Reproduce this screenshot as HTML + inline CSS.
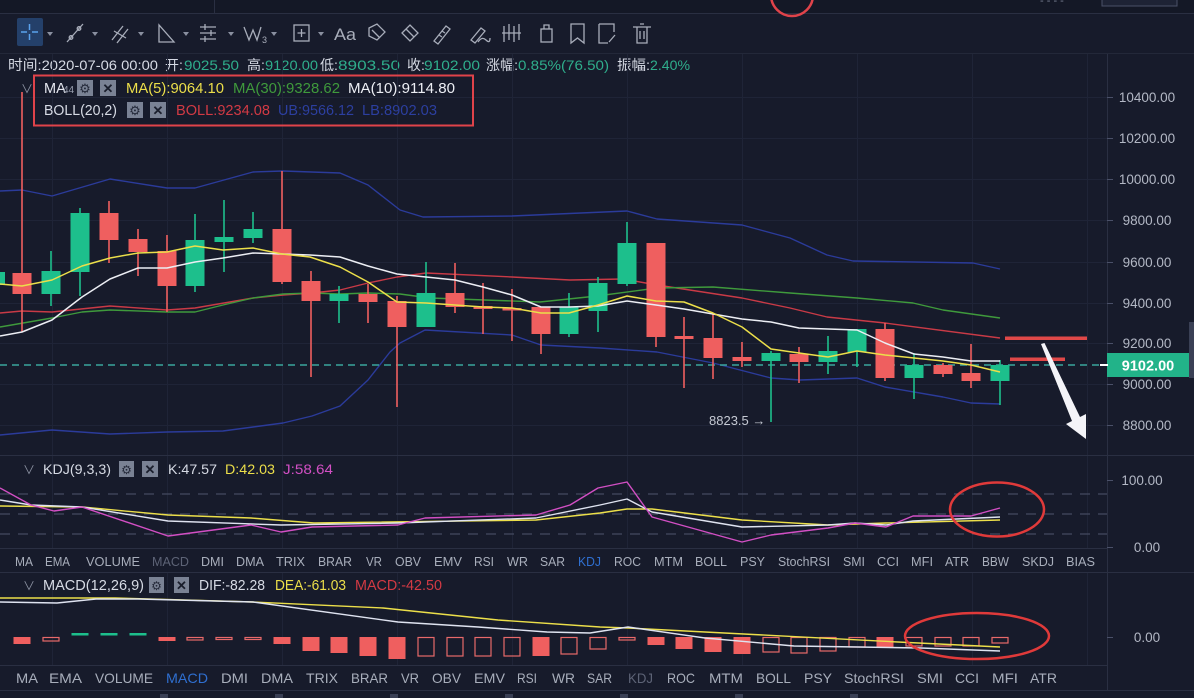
<!DOCTYPE html>
<html><head><meta charset="utf-8"><style>
html,body{margin:0;padding:0;background:#171b2b;overflow:hidden;}
svg{display:block;}
text{font-family:"Liberation Sans","Noto Sans CJK SC",sans-serif;}
</style></head><body>
<svg width="1194" height="698" viewBox="0 0 1194 698" xmlns="http://www.w3.org/2000/svg">
<rect width="1194" height="698" fill="#171b2b"/>
<!-- top strip -->
<rect x="0" y="0" width="1194" height="13" fill="#141826"/>
<line x1="0" y1="13.5" x2="1194" y2="13.5" stroke="#2a2f42"/>
<line x1="214.5" y1="0" x2="214.5" y2="13" stroke="#2a2f42"/>
<circle cx="792" cy="-5" r="21" fill="none" stroke="#e0434a" stroke-width="2.5"/>
<rect x="1102" y="-6" width="75" height="12" fill="#1e2335" stroke="#4a5068"/>
<text x="1040" y="4" font-size="11" fill="#7a8094">- -  - -</text>
<line x1="0" y1="53.5" x2="1194" y2="53.5" stroke="#232839"/>

<!-- toolbar -->
<rect x="17" y="18" width="26" height="28" rx="2" fill="#24406a"/>
<path d="M21 32H27M32 32H38M29.5 24V30M29.5 34V40" stroke="#5aa2ec" stroke-width="1.5"/>
<g fill="#8a90a0">
<polygon points="47,32 53,32 50,36"/><polygon points="92,32 98,32 95,36"/><polygon points="138,32 144,32 141,36"/>
<polygon points="183,32 189,32 186,36"/><polygon points="228,32 234,32 231,36"/><polygon points="271,32 277,32 274,36"/>
<polygon points="318,32 324,32 321,36"/>
</g>
<g stroke="#a8adba" stroke-width="1.3" fill="none">
<path d="M67 42L83 24"/><circle cx="71" cy="37.5" r="1.8"/><circle cx="79" cy="28.5" r="1.8"/>
<path d="M112 40L123 26M117 43L128 29M114 31L126 38"/>
<path d="M159 42V25L174 42Z"/>
<path d="M200 27H216M200 33H216M200 39H216M205 24V30M211 30V36M205 36V42"/>
<path d="M244 27L249 40L253 30L257 40L261 27"/>
<rect x="294" y="25" width="15" height="16"/><path d="M301.5 29V37M297.5 33H305.5"/>
<path d="M369 28L377 24L385 32L377 40L369 36Z M372 30L380 38"/>
<path d="M402 33L410 25L418 33L410 41Z M406 29L414 37"/>
<path d="M434 41L446 26L450 29L438 44Z M439 35L442 37M442 31L445 33"/>
<path d="M471 40L481 28L485 31L475 43Z M478 42Q482 36 486 40T490 38"/>
<path d="M504 26V42M509 24V40M514 26V42M519 24V40M502 33H521"/>
<rect x="541" y="29" width="11" height="13"/><path d="M544 29V25H549V29"/>
<path d="M571 24H584V43L577.5 38L571 43Z"/>
<path d="M599 24H614V32M599 24V43H608M609 42L615 35"/>
<path d="M633 27H651M637 27V43H647V27M640 24H644M640 31V39M644 31V39"/>
</g>
<text x="262" y="43" font-size="9" fill="#a8adba">3</text>
<text x="334" y="40" font-size="17" fill="#a8adba" textLength="22" lengthAdjust="spacingAndGlyphs">Aa</text>

<!-- header -->
<g font-size="14">
<text x="8" y="70" fill="#d6dae4" textLength="150" lengthAdjust="spacingAndGlyphs">时间:2020-07-06 00:00</text>
<text x="165" y="70" fill="#d6dae4">开:</text><text x="184" y="70" fill="#2fae8c" textLength="55" lengthAdjust="spacingAndGlyphs">9025.50</text>
<text x="247" y="70" fill="#d6dae4">高:</text><text x="265" y="70" fill="#2fae8c" textLength="53" lengthAdjust="spacingAndGlyphs">9120.00</text>
<text x="320" y="70" fill="#d6dae4">低:</text><text x="338" y="70" fill="#2fae8c" textLength="62" lengthAdjust="spacingAndGlyphs">8903.50</text>
<text x="407" y="70" fill="#d6dae4">收:</text><text x="424" y="70" fill="#2fae8c" textLength="56" lengthAdjust="spacingAndGlyphs">9102.00</text>
<text x="486" y="70" fill="#d6dae4" textLength="32" lengthAdjust="spacingAndGlyphs">涨幅:</text><text x="518" y="70" fill="#2fae8c" textLength="91" lengthAdjust="spacingAndGlyphs">0.85%(76.50)</text>
<text x="617" y="70" fill="#d6dae4" textLength="33" lengthAdjust="spacingAndGlyphs">振幅:</text><text x="650" y="70" fill="#2fae8c" textLength="40" lengthAdjust="spacingAndGlyphs">2.40%</text>
</g>

<!-- grid main -->
<g stroke="#1f2437" stroke-width="1">
<path d="M0 97.5H1107M0 138.5H1107M0 179.5H1107M0 220.5H1107M0 262.5H1107M0 303.5H1107M0 343.5H1107M0 384.5H1107M0 425.5H1107"/>
<path d="M52.5 54V455M167.5 54V455M282.5 54V455M397.5 54V455M512.5 54V455M627.5 54V455M742.5 54V455M857.5 54V455M972.5 54V455M1087.5 54V455"/>
<path d="M52.5 456V548M167.5 456V548M282.5 456V548M397.5 456V548M512.5 456V548M627.5 456V548M742.5 456V548M857.5 456V548M972.5 456V548M1087.5 456V548"/>
<path d="M52.5 573V665M167.5 573V665M282.5 573V665M397.5 573V665M512.5 573V665M627.5 573V665M742.5 573V665M857.5 573V665M972.5 573V665M1087.5 573V665"/>
</g>
<!-- panel separators -->
<g stroke="#2a2f42" stroke-width="1">
<line x1="0" y1="455.5" x2="1194" y2="455.5"/>
<line x1="0" y1="548.5" x2="1107" y2="548.5"/>
<line x1="0" y1="572.5" x2="1194" y2="572.5"/>
<line x1="0" y1="665.5" x2="1107" y2="665.5"/>
<line x1="0" y1="690.5" x2="1194" y2="690.5"/>
<line x1="1107.5" y1="54" x2="1107.5" y2="690"/>
</g>

<!-- Bollinger bands & MAs -->
<g fill="none" stroke-width="1.4" stroke-linejoin="round">
<polyline stroke="#2b3b9a" points="0,191 22,190 52,196 110,179 167,188 195,188 253,172 283,171 340,173 368,185 400,210 423,217 512,216 627,211 657,219 742,225 790,238 827,255 853,261 973,263 1000,269"/>
<polyline stroke="#2b3b9a" points="0,435 52,430 110,434 167,432 223,431 253,427 283,423 312,416 340,406 368,380 390,352 400,343 425,330 512,335 541,345 600,348 657,352 713,363 771,378 800,380 857,378 885,387 943,397 971,403 1000,404"/>
<polyline stroke="#c93a46" points="0,313 22,311 52,312 110,306 167,310 195,308 253,298 283,295 312,293 340,290 368,283 397,277 426,273 512,277 570,280 623,279 657,285 742,298 790,308 827,317 885,323 1000,338"/>
<polyline stroke="#3f9a3c" points="0,327 52,318 82,312 110,310 167,312 195,312 223,305 253,298 283,294 312,293 340,294 368,293 400,294 430,298 540,302 597,296 657,288 713,287 790,293 857,298 913,303 943,310 1000,318"/>
</g>

<!-- teal dashed price line -->
<line x1="0" y1="365" x2="1107" y2="365" stroke="#3aa69c" stroke-width="1.6" stroke-dasharray="7,5"/>

<!-- candles -->
<path stroke="#ef5f5f" stroke-width="1.6" d="M22 92V332M109 201V263M138 229V276M167 235V312M282 171V284M311 271V377M368 284V323M397 296V407M455 263V313M483 283V334M512 289V341M541 307V354M656 243V347M684 317V388M713 314V379M742 342V367M799 347V383M885 323V381M943 363V377M971 344V388"/>
<path stroke="#1dbf8c" stroke-width="1.6" d="M3 272V285M51 251V306M80 208V296M195 214V292M224 200V272M253 212V243M339 286V323M426 262V327M569 293V337M598 277V332M627 222V286M771 351V422M828 336V374M857 329V367M914 353V399M1000 360V405"/>
<g fill="#ef5f5f">
<rect x="12.5" y="273" width="19" height="21"/>
<rect x="99.5" y="213" width="19" height="27"/>
<rect x="128.5" y="239" width="19" height="13"/>
<rect x="157.5" y="251" width="19" height="35"/>
<rect x="272.5" y="229" width="19" height="53"/>
<rect x="301.5" y="281" width="19" height="20"/>
<rect x="358.5" y="294" width="19" height="8"/>
<rect x="387.5" y="301" width="19" height="26"/>
<rect x="445.5" y="293" width="19" height="14"/>
<rect x="473.5" y="306" width="19" height="3"/>
<rect x="502.5" y="308" width="19" height="2.5"/>
<rect x="531.5" y="307" width="19" height="27"/>
<rect x="646.5" y="243" width="19" height="94"/>
<rect x="674.5" y="336" width="19" height="3"/>
<rect x="703.5" y="338" width="19" height="20"/>
<rect x="732.5" y="357" width="19" height="4"/>
<rect x="789.5" y="354" width="19" height="8"/>
<rect x="875.5" y="329" width="19" height="49"/>
<rect x="933.5" y="365" width="19" height="9"/>
<rect x="961.5" y="373" width="19" height="8"/>
</g>
<g fill="#1dbf8c">
<rect x="0" y="272" width="5" height="13"/>
<rect x="41.5" y="271" width="19" height="23"/>
<rect x="70.5" y="213" width="19" height="59"/>
<rect x="185.5" y="240" width="19" height="46"/>
<rect x="214.5" y="237" width="19" height="5"/>
<rect x="243.5" y="229" width="19" height="9"/>
<rect x="329.5" y="294" width="19" height="7"/>
<rect x="416.5" y="293" width="19" height="34"/>
<rect x="559.5" y="307" width="19" height="27"/>
<rect x="588.5" y="283" width="19" height="28"/>
<rect x="617.5" y="243" width="19" height="41"/>
<rect x="761.5" y="353" width="19" height="8"/>
<rect x="818.5" y="351" width="19" height="11"/>
<rect x="847.5" y="329" width="19" height="23"/>
<rect x="904.5" y="365" width="19" height="13"/>
<rect x="990.5" y="365" width="19" height="16"/>
</g>

<!-- MA10 and MA5 on top -->
<g fill="none" stroke-width="1.5" stroke-linejoin="round">
<polyline stroke="#eceef4" points="0,336 22,332 52,320 82,297 110,279 138,268 167,268 195,262 223,258 253,253 282,254 310,255 340,257 368,266 397,274 426,277 455,280 483,287 512,295 541,307 569,307 598,306 627,301 656,305 684,309 713,314 742,319 771,322 799,328 828,329 857,330 885,343 914,354 943,357 971,361 1000,361"/>
<polyline stroke="#ecdf4a" points="0,284 22,286 52,280 82,266 110,258 138,253 167,252 195,246 223,250 253,248 282,254 310,257 340,267 368,282 397,302 426,303 455,305 483,307 512,308 541,313 569,313 598,305 627,296 656,301 684,302 713,313 742,327 771,349 799,353 828,357 857,351 885,355 914,358 943,361 971,365 1000,372"/>
</g>

<text x="709" y="425" font-size="13" fill="#c5c9d3">8823.5 →</text>

<!-- annotations -->
<rect x="1005" y="336.5" width="82" height="3.5" fill="#e04848"/>
<rect x="1010" y="357.5" width="55" height="3.5" fill="#e04848"/>
<polygon fill="#f4f4f8" points="1041,344 1044.5,343 1080,417 1086,414 1086,439 1066,424 1072,421"/>

<!-- main axis -->
<g stroke="#4a5068"><path d="M1107 97.5H1113M1107 138.5H1113M1107 179.5H1113M1107 220.5H1113M1107 262.5H1113M1107 303.5H1113M1107 343.5H1113M1107 384.5H1113M1107 425.5H1113"/></g>
<g font-size="13.5" fill="#b3b8c5" text-anchor="middle">
<text x="1147" y="102">10400.00</text>
<text x="1147" y="143">10200.00</text>
<text x="1147" y="184">10000.00</text>
<text x="1147" y="225">9800.00</text>
<text x="1147" y="267">9600.00</text>
<text x="1147" y="308">9400.00</text>
<text x="1147" y="348">9200.00</text>
<text x="1147" y="389">9000.00</text>
<text x="1147" y="430">8800.00</text>
</g>
<rect x="1189" y="322" width="5" height="56" fill="#3a4055"/>
<rect x="1107" y="353" width="82" height="24" fill="#22b389"/>
<line x1="1100" y1="365" x2="1108" y2="365" stroke="#ffffff" stroke-width="2"/>
<text x="1148" y="370.5" font-size="14.5" font-weight="bold" fill="#ffffff" text-anchor="middle">9102.00</text>

<!-- legend -->
<rect x="34" y="75.5" width="439" height="50" fill="none" stroke="#e0434a" stroke-width="2"/>
<text x="21" y="93" font-size="12" fill="#8a90a0">∨</text>
<g font-size="14.5">
<text x="44" y="93" fill="#e4e6ee">MA</text>
<text x="63" y="93" font-size="10" fill="#9aa0b0">44</text>
<rect x="77" y="80" width="16" height="16" fill="#7a8294"/>
<text x="85" y="93" font-size="13" fill="#252a3a" text-anchor="middle" font-family="DejaVu Sans">⚙</text>
<rect x="100" y="80" width="16" height="16" fill="#7a8294"/>
<text x="108" y="93" font-size="13" fill="#1a1e2c" text-anchor="middle" font-weight="bold">✕</text>
<text x="126" y="93" fill="#ecdf4a" textLength="98" lengthAdjust="spacingAndGlyphs">MA(5):9064.10</text>
<text x="233" y="93" fill="#3f9a3c" textLength="107" lengthAdjust="spacingAndGlyphs">MA(30):9328.62</text>
<text x="348" y="93" fill="#eceef4" textLength="107" lengthAdjust="spacingAndGlyphs">MA(10):9114.80</text>
<text x="44" y="115" fill="#d6dae4" textLength="73" lengthAdjust="spacingAndGlyphs">BOLL(20,2)</text>
<rect x="127" y="102" width="16" height="16" fill="#7a8294"/>
<text x="135" y="115" font-size="13" fill="#252a3a" text-anchor="middle" font-family="DejaVu Sans">⚙</text>
<rect x="150" y="102" width="16" height="16" fill="#7a8294"/>
<text x="158" y="115" font-size="13" fill="#1a1e2c" text-anchor="middle" font-weight="bold">✕</text>
<text x="176" y="115" fill="#d23a44" textLength="94" lengthAdjust="spacingAndGlyphs">BOLL:9234.08</text>
<text x="278" y="115" fill="#2c3fa0" textLength="76" lengthAdjust="spacingAndGlyphs">UB:9566.12</text>
<text x="362" y="115" fill="#2c3fa0" textLength="75" lengthAdjust="spacingAndGlyphs">LB:8902.03</text>
</g>

<!-- KDJ panel -->
<g stroke="#444a60" stroke-width="1.2" stroke-dasharray="10,8">
<line x1="0" y1="494" x2="1107" y2="494"/>
<line x1="0" y1="514" x2="1107" y2="514"/>
<line x1="0" y1="534" x2="1107" y2="534"/>
</g>
<g fill="none" stroke-width="1.4" stroke-linejoin="round">
<polyline stroke="#ecdf4a" points="0,506 82,507 168,515 251,518 314,523 536,520 600,513 627,509 652,509 742,520 828,525 886,523 1000,520"/>
<polyline stroke="#dfe3f0" points="0,500 31,505 82,507 168,521 281,525 398,523 536,518 600,505 627,499 652,512 742,527 828,525 855,523 886,525 913,521 1000,517"/>
<polyline stroke="#d24fc4" points="0,488 31,505 54,511 82,507 168,536 251,525 281,532 312,527 398,525 425,518 536,515 570,505 598,488 627,482 652,517 742,542 771,535 828,528 855,523 886,527 913,516 971,516 1000,508"/>
</g>
<ellipse cx="997" cy="509.5" rx="47" ry="27" fill="none" stroke="#e03a3a" stroke-width="2.5"/>
<text x="23" y="474" font-size="12" fill="#8a90a0">∨</text>
<g font-size="14">
<text x="43" y="474" fill="#d6dae4" textLength="68" lengthAdjust="spacingAndGlyphs">KDJ(9,3,3)</text>
<rect x="119" y="461" width="15" height="16" fill="#7a8294"/>
<text x="126.5" y="474" font-size="12" fill="#252a3a" text-anchor="middle" font-family="DejaVu Sans">⚙</text>
<rect x="142" y="461" width="16" height="16" fill="#7a8294"/>
<text x="150" y="474" font-size="13" fill="#1a1e2c" text-anchor="middle" font-weight="bold">✕</text>
<text x="168" y="474" fill="#d6dae4" textLength="49" lengthAdjust="spacingAndGlyphs">K:47.57</text>
<text x="225" y="474" fill="#ecdf4a" textLength="50" lengthAdjust="spacingAndGlyphs">D:42.03</text>
<text x="283" y="474" fill="#d24fc4" textLength="50" lengthAdjust="spacingAndGlyphs">J:58.64</text>
</g>
<g stroke="#4a5068"><path d="M1107 480.5H1113M1107 547.5H1113"/></g>
<g font-size="13.5" fill="#b3b8c5" text-anchor="middle">
<text x="1142" y="485">100.00</text>
<text x="1147" y="552">0.00</text>
</g>

<!-- KDJ tabs -->
<g font-size="13" fill="#a8aebb">
<text x="15" y="566" textLength="18" lengthAdjust="spacingAndGlyphs">MA</text>
<text x="45" y="566" textLength="25" lengthAdjust="spacingAndGlyphs">EMA</text>
<text x="86" y="566" textLength="54" lengthAdjust="spacingAndGlyphs">VOLUME</text>
<text x="152" y="566" textLength="37" lengthAdjust="spacingAndGlyphs" fill="#5d6376">MACD</text>
<text x="201" y="566" textLength="23" lengthAdjust="spacingAndGlyphs">DMI</text>
<text x="236" y="566" textLength="28" lengthAdjust="spacingAndGlyphs">DMA</text>
<text x="276" y="566" textLength="29" lengthAdjust="spacingAndGlyphs">TRIX</text>
<text x="318" y="566" textLength="34" lengthAdjust="spacingAndGlyphs">BRAR</text>
<text x="366" y="566" textLength="16" lengthAdjust="spacingAndGlyphs">VR</text>
<text x="395" y="566" textLength="26" lengthAdjust="spacingAndGlyphs">OBV</text>
<text x="434" y="566" textLength="28" lengthAdjust="spacingAndGlyphs">EMV</text>
<text x="474" y="566" textLength="20" lengthAdjust="spacingAndGlyphs">RSI</text>
<text x="507" y="566" textLength="21" lengthAdjust="spacingAndGlyphs">WR</text>
<text x="540" y="566" textLength="25" lengthAdjust="spacingAndGlyphs">SAR</text>
<text x="578" y="566" textLength="23" lengthAdjust="spacingAndGlyphs" fill="#2f6fd0">KDJ</text>
<text x="614" y="566" textLength="27" lengthAdjust="spacingAndGlyphs">ROC</text>
<text x="654" y="566" textLength="29" lengthAdjust="spacingAndGlyphs">MTM</text>
<text x="695" y="566" textLength="32" lengthAdjust="spacingAndGlyphs">BOLL</text>
<text x="740" y="566" textLength="25" lengthAdjust="spacingAndGlyphs">PSY</text>
<text x="778" y="566" textLength="52" lengthAdjust="spacingAndGlyphs">StochRSI</text>
<text x="843" y="566" textLength="22" lengthAdjust="spacingAndGlyphs">SMI</text>
<text x="877" y="566" textLength="22" lengthAdjust="spacingAndGlyphs">CCI</text>
<text x="911" y="566" textLength="22" lengthAdjust="spacingAndGlyphs">MFI</text>
<text x="945" y="566" textLength="24" lengthAdjust="spacingAndGlyphs">ATR</text>
<text x="982" y="566" textLength="27" lengthAdjust="spacingAndGlyphs">BBW</text>
<text x="1022" y="566" textLength="32" lengthAdjust="spacingAndGlyphs">SKDJ</text>
<text x="1066" y="566" textLength="29" lengthAdjust="spacingAndGlyphs">BIAS</text>
</g>

<!-- MACD panel -->
<g fill="#ef5f5f">
<rect x="13.5" y="637" width="17" height="7"/>
<rect x="158.5" y="637" width="17" height="4"/>
<rect x="273.5" y="637" width="17" height="7"/>
<rect x="302.5" y="637" width="17" height="14"/>
<rect x="330.5" y="637" width="17" height="16"/>
<rect x="359.5" y="637" width="17" height="19"/>
<rect x="388.5" y="637" width="17" height="22"/>
<rect x="532.5" y="637" width="17" height="19"/>
<rect x="647.5" y="637" width="17" height="8"/>
<rect x="675.5" y="637" width="17" height="12"/>
<rect x="704.5" y="637" width="17" height="15"/>
<rect x="733.5" y="637" width="17" height="17"/>
<rect x="876.5" y="637" width="17" height="10"/>
</g>
<g fill="#1dbf8c">
<rect x="71.5" y="633" width="17" height="2.5"/>
<rect x="100.5" y="633" width="17" height="2.5"/>
<rect x="129.5" y="633" width="17" height="2.5"/>
</g>
<g fill="none" stroke="#e8696a" stroke-width="1.2">
<rect x="43" y="637.5" width="16" height="3.5"/>
<rect x="187" y="637.5" width="16" height="2.5"/>
<rect x="216" y="637.5" width="16" height="2"/>
<rect x="245" y="637.5" width="16" height="2"/>
<rect x="418" y="637.5" width="16" height="18.5"/>
<rect x="447" y="637.5" width="16" height="18.5"/>
<rect x="475" y="637.5" width="16" height="18.5"/>
<rect x="504" y="637.5" width="16" height="18.5"/>
<rect x="561" y="637.5" width="16" height="16.5"/>
<rect x="590" y="637.5" width="16" height="11.5"/>
<rect x="619" y="637.5" width="16" height="2.5"/>
<rect x="763" y="637.5" width="16" height="14.5"/>
<rect x="791" y="637.5" width="16" height="15.5"/>
<rect x="820" y="637.5" width="16" height="13.5"/>
<rect x="849" y="637.5" width="16" height="9.5"/>
<rect x="906" y="637.5" width="16" height="8.5"/>
<rect x="935" y="637.5" width="16" height="8.5"/>
<rect x="963" y="637.5" width="16" height="8.5"/>
<rect x="992" y="637.5" width="16" height="5.5"/>
</g>
<g fill="none" stroke-width="1.4" stroke-linejoin="round">
<polyline stroke="#ecdf4a" points="0,598 115,598 253,602 383,608 498,620 600,627 628,628 898,642 1000,647"/>
<polyline stroke="#dfe3f0" points="0,602 57,603 96,599 138,599 253,602 398,622 478,627 547,632 590,633 628,627 705,638 794,646 921,648 1000,651"/>
</g>
<ellipse cx="977" cy="636" rx="72" ry="23" fill="none" stroke="#e03a3a" stroke-width="2.5"/>
<text x="23" y="590" font-size="12" fill="#8a90a0">∨</text>
<g font-size="14.5">
<text x="43" y="590" fill="#d6dae4" textLength="101" lengthAdjust="spacingAndGlyphs">MACD(12,26,9)</text>
<rect x="149" y="577" width="15" height="16" fill="#7a8294"/>
<text x="156.5" y="590" font-size="12" fill="#252a3a" text-anchor="middle" font-family="DejaVu Sans">⚙</text>
<rect x="174" y="577" width="15" height="16" fill="#7a8294"/>
<text x="181.5" y="590" font-size="13" fill="#1a1e2c" text-anchor="middle" font-weight="bold">✕</text>
<text x="199" y="590" fill="#d6dae4" textLength="66" lengthAdjust="spacingAndGlyphs">DIF:-82.28</text>
<text x="275" y="590" fill="#ecdf4a" textLength="71" lengthAdjust="spacingAndGlyphs">DEA:-61.03</text>
<text x="355" y="590" fill="#d23a44" textLength="87" lengthAdjust="spacingAndGlyphs">MACD:-42.50</text>
</g>
<g stroke="#4a5068"><path d="M1107 637.5H1113"/></g>
<text x="1147" y="642" font-size="13.5" fill="#b3b8c5" text-anchor="middle">0.00</text>

<!-- MACD tabs -->
<g font-size="14" fill="#a8aebb">
<text x="16" y="683" textLength="22" lengthAdjust="spacingAndGlyphs">MA</text>
<text x="49" y="683" textLength="33" lengthAdjust="spacingAndGlyphs">EMA</text>
<text x="95" y="683" textLength="58" lengthAdjust="spacingAndGlyphs">VOLUME</text>
<text x="166" y="683" textLength="42" lengthAdjust="spacingAndGlyphs" fill="#2f6fd0">MACD</text>
<text x="221" y="683" textLength="27" lengthAdjust="spacingAndGlyphs">DMI</text>
<text x="261" y="683" textLength="32" lengthAdjust="spacingAndGlyphs">DMA</text>
<text x="306" y="683" textLength="32" lengthAdjust="spacingAndGlyphs">TRIX</text>
<text x="351" y="683" textLength="37" lengthAdjust="spacingAndGlyphs">BRAR</text>
<text x="401" y="683" textLength="18" lengthAdjust="spacingAndGlyphs">VR</text>
<text x="432" y="683" textLength="29" lengthAdjust="spacingAndGlyphs">OBV</text>
<text x="474" y="683" textLength="31" lengthAdjust="spacingAndGlyphs">EMV</text>
<text x="517" y="683" textLength="20" lengthAdjust="spacingAndGlyphs">RSI</text>
<text x="552" y="683" textLength="23" lengthAdjust="spacingAndGlyphs">WR</text>
<text x="587" y="683" textLength="25" lengthAdjust="spacingAndGlyphs">SAR</text>
<text x="628" y="683" textLength="25" lengthAdjust="spacingAndGlyphs" fill="#5d6376">KDJ</text>
<text x="667" y="683" textLength="28" lengthAdjust="spacingAndGlyphs">ROC</text>
<text x="709" y="683" textLength="34" lengthAdjust="spacingAndGlyphs">MTM</text>
<text x="756" y="683" textLength="35" lengthAdjust="spacingAndGlyphs">BOLL</text>
<text x="804" y="683" textLength="28" lengthAdjust="spacingAndGlyphs">PSY</text>
<text x="844" y="683" textLength="60" lengthAdjust="spacingAndGlyphs">StochRSI</text>
<text x="917" y="683" textLength="26" lengthAdjust="spacingAndGlyphs">SMI</text>
<text x="955" y="683" textLength="24" lengthAdjust="spacingAndGlyphs">CCI</text>
<text x="992" y="683" textLength="26" lengthAdjust="spacingAndGlyphs">MFI</text>
<text x="1030" y="683" textLength="27" lengthAdjust="spacingAndGlyphs">ATR</text>
</g>
<g fill="#3a4055">
<rect x="160" y="694" width="8" height="4"/><rect x="275" y="694" width="8" height="4"/><rect x="390" y="694" width="8" height="4"/><rect x="505" y="694" width="8" height="4"/><rect x="620" y="694" width="8" height="4"/><rect x="735" y="694" width="8" height="4"/><rect x="850" y="694" width="8" height="4"/>
</g>
</svg>
</body></html>
